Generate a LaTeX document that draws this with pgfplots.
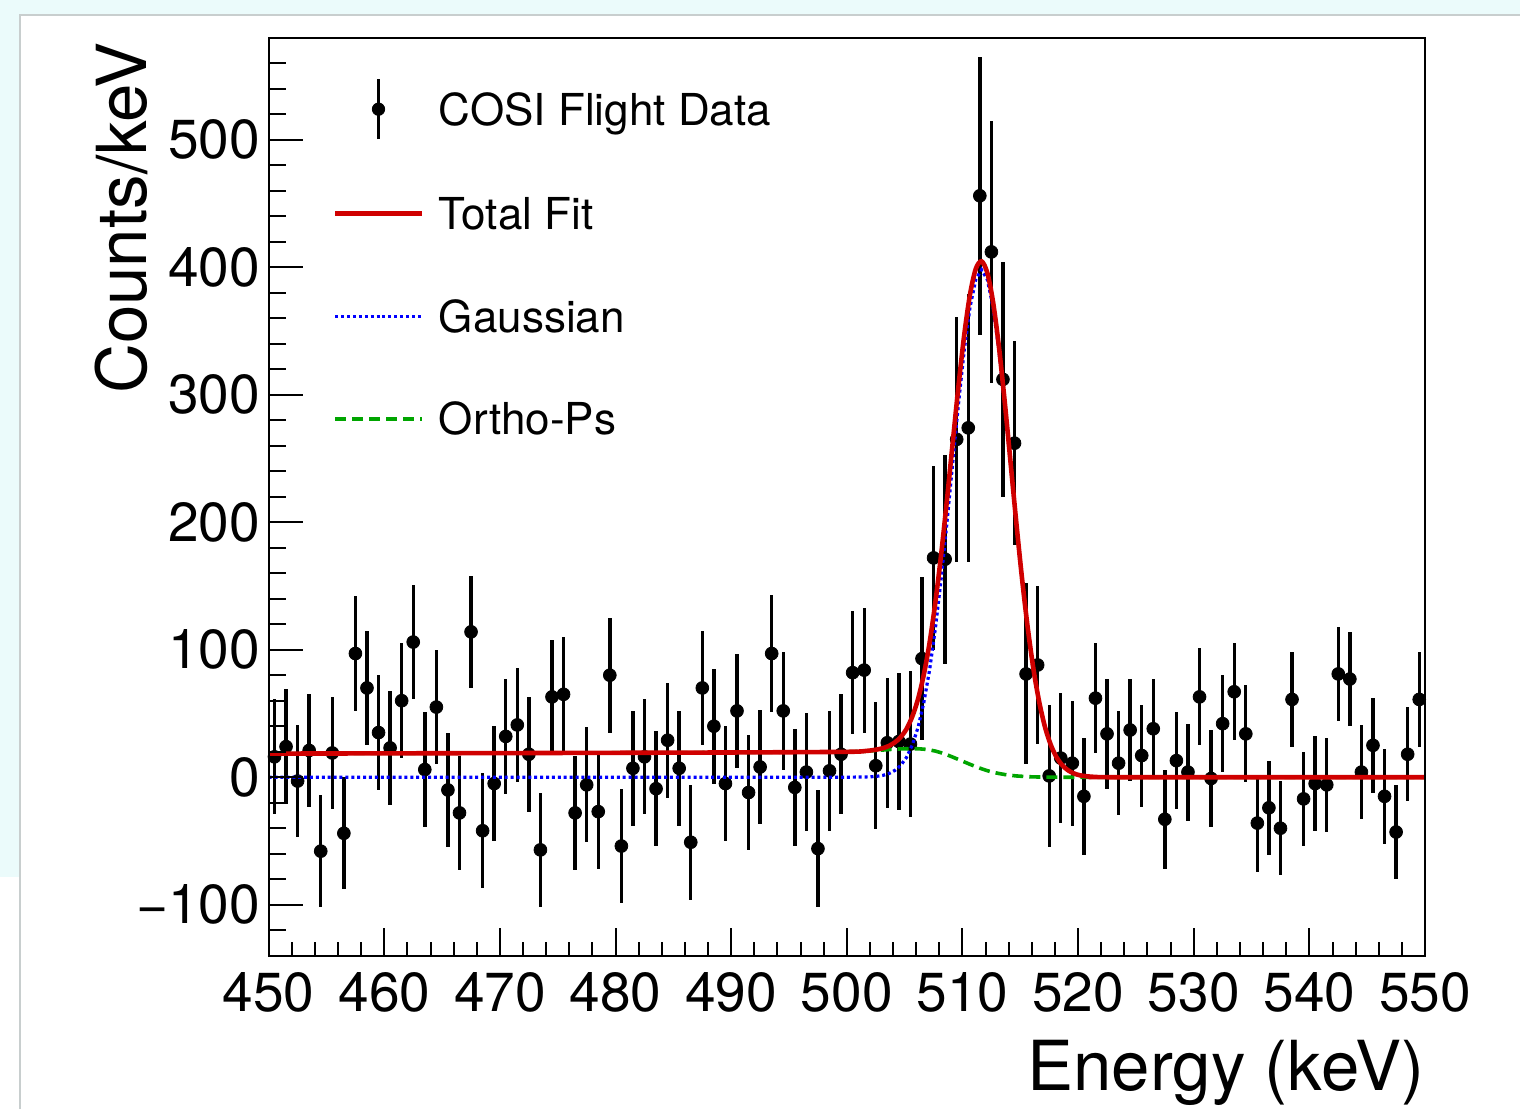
\documentclass[border=0pt]{standalone}
\usepackage{fontspec}
\setmainfont{TeX Gyre Heros}
\usepackage{pgfplots}
\usepackage{pgfplotstable}
\pgfplotsset{compat=1.18}

\definecolor{fitred}{RGB}{208,0,0}
\definecolor{gausblue}{RGB}{0,0,255}
\definecolor{opsgreen}{RGB}{0,165,0}
\definecolor{pagecyan}{RGB}{235,251,251}
\definecolor{cardedge}{RGB}{200,206,206}

% background-subtracted spectrum, 1 keV bins: centre, counts/keV, error
\pgfplotstableread{
x y e
450.5 16 45
451.5 24 45
452.5 -3 44
453.5 21 44
454.5 -58 44
455.5 19 44
456.5 -44 44
457.5 97 45
458.5 70 45
459.5 35 45
460.5 23 45
461.5 60 45
462.5 106 45
463.5 6 45
464.5 55 45
465.5 -10 45
466.5 -28 45
467.5 114 44
468.5 -42 45
469.5 -5 45
470.5 32 45
471.5 41 45
472.5 18 45
473.5 -57 45
474.5 63 45
475.5 65 45
476.5 -28 45
477.5 -6 45
478.5 -27 45
479.5 80 45
480.5 -54 45
481.5 7 45
482.5 16 45
483.5 -9 45
484.5 29 45
485.5 7 45
486.5 -51 45
487.5 70 45
488.5 40 45
489.5 -5 45
490.5 52 45
491.5 -12 45
492.5 8 45
493.5 97 46
494.5 52 46
495.5 -8 46
496.5 4 46
497.5 -56 46
498.5 5 47
499.5 18 47
500.5 82 48
501.5 84 49
502.5 9 50
503.5 27 51
504.5 28 54
505.5 26 57
506.5 93 64
507.5 172 72
508.5 171 82
509.5 265 96
510.5 274 105
511.5 456 109
512.5 412 103
513.5 312 92
514.5 262 80
515.5 81 71
516.5 88 62
517.5 1 56
518.5 15 51
519.5 11 49
520.5 -15 46
521.5 62 43
522.5 34 43
523.5 11 41
524.5 37 40
525.5 17 40
526.5 38 39
527.5 -33 39
528.5 13 38
529.5 4 38
530.5 63 38
531.5 -1 38
532.5 42 38
533.5 67 38
534.5 34 38
535.5 -36 38
536.5 -24 37
537.5 -40 37
538.5 61 37
539.5 -17 37
540.5 -5 37
541.5 -6 37
542.5 81 37
543.5 77 37
544.5 4 37
545.5 25 37
546.5 -15 37
547.5 -43 37
548.5 18 37
549.5 61 37
}\spectrum

% Gaussian line component
\pgfplotstableread{
x y
450 0
500 0
501.65 0.2
502.15 0.4
502.65 0.8
503.15 1.5
503.65 2.9
504.15 5.3
504.65 9.2
505.15 15.4
505.65 25.0
506.15 38.8
506.65 58.2
507.15 83.8
507.65 116.3
508.15 155.1
508.65 199.2
509.15 246.1
509.65 292.6
510.15 334.8
510.65 368.5
511.15 390.4
511.65 398.0
512.15 390.4
512.65 368.5
513.15 334.8
513.65 292.6
514.15 246.1
514.65 199.2
515.15 155.1
515.65 116.3
516.15 83.8
516.65 58.2
517.15 38.8
517.65 25.0
518.15 15.4
518.65 9.2
519.15 5.3
519.65 2.9
520.15 1.5
520.65 0.8
521.15 0.4
521.65 0.2
523 0
550 0
}\gaussline

% ortho-positronium continuum component
\pgfplotstableread{
x y
450 18.5
470 18.9
490 19.4
500 19.9
501.65 20.4
502.65 21.0
503.65 21.7
504.65 22.2
505.65 22.4
506.15 22.3
506.65 22.0
507.15 21.4
507.65 20.5
508.15 19.2
508.65 17.6
509.15 15.8
509.65 13.9
510.15 12.0
510.65 10.1
511.15 8.3
511.65 6.6
512.15 5.1
512.65 3.9
513.15 2.9
513.65 2.1
514.15 1.5
514.65 1.0
515.15 0.7
515.65 0.4
516.15 0.25
516.65 0.15
517.65 0.05
518.65 0
550 0
}\orthops

% total fit = Gaussian + ortho-Ps
\pgfplotstableread{
x y
450 18.5
470 18.9
490 19.4
500 19.9
501.65 20.6
502.15 21.1
502.65 21.8
503.15 22.85
503.65 24.6
504.15 27.3
504.65 31.4
505.15 37.7
505.65 47.4
506.15 61.1
506.65 80.2
507.15 105.2
507.65 136.8
508.15 174.3
508.65 216.8
509.15 261.9
509.65 306.5
510.15 346.8
510.65 378.6
511.15 398.7
511.65 404.6
512.15 395.5
512.65 372.4
513.15 337.7
513.65 294.7
514.15 247.6
514.65 200.2
515.15 155.8
515.65 116.7
516.15 84.05
516.65 58.35
517.15 38.9
517.65 25.05
518.15 15.4
518.65 9.2
519.15 5.3
519.65 2.9
520.15 1.5
520.65 0.8
521.15 0.4
521.65 0.2
523 0
550 0
}\totalfit

\pgfplotsset{
  rootframe/.style={
    scale only axis, width=578.15pt, height=459pt,
    at={(0pt,0pt)}, anchor=south west,
    xmin=450, xmax=550, ymin=-140, ymax=580,
    axis line style={line width=1pt, black},
    every tick/.style={line width=1pt, black},
    tick align=inside, tick pos=left,
  },
  datalegend/.style={legend image code/.code={
      \draw[black, line width=1.7pt] (21.6pt,-15pt) -- (21.6pt,15pt);
      \fill[black] (21.6pt,0pt) circle[radius=3.1pt];}},
  linelegend/.style={legend image code/.code={
      \draw[##1] (0pt,0pt) -- (43.2pt,0pt);}},
  fitstyle/.style={fitred, line width=2.3pt},
  gausstyle/.style={gausblue, line width=1.6pt, dash pattern=on 1.5pt off 1.45pt},
  opsstyle/.style={opsgreen, line width=1.8pt, dash pattern=on 5.5pt off 3pt},
}

\begin{document}
\begin{tikzpicture}
\path[use as bounding box] (-134.35pt,-76.65pt) rectangle (625.65pt,477.85pt);
\fill[white] (-134.35pt,-76.65pt) rectangle (625.65pt,477.85pt);
\fill[pagecyan] (-134.35pt,470.35pt) rectangle (625.65pt,477.85pt);
\fill[pagecyan] (-134.35pt,39.35pt) rectangle (-124.35pt,477.85pt);
\draw[cardedge, line width=0.9pt] (-124.35pt,-76.65pt) -- (-124.35pt,470.35pt) -- (625.65pt,470.35pt);

% main frame: x ticks, curves, data, legend
\begin{axis}[
  rootframe,
  clip mode=individual,
  xtick={450,460,...,550},
  minor xtick={452,454,...,548},
  ytick=\empty,
  major tick length=13.7pt, minor tick length=7pt,
  xticklabel style={font=\fontsize{27.5}{30}\selectfont, inner sep=0pt, anchor=north, yshift=-8pt},
  /pgf/number format/assume math mode=true,
  legend style={at={(rel axis cs:0,1)}, anchor=north west, xshift=32.15pt, yshift=-19.9pt,
    draw=none, fill=none, inner sep=0pt, outer sep=0pt,
    row sep=21.35pt, column sep=7.5pt,
    font=\fontsize{22}{26}\selectfont,
    nodes={inner sep=0pt, text height=22.9pt, text depth=7.1pt},
    cells={anchor=west}},
]
\addlegendimage{datalegend}
\addlegendentry{COSI Flight Data}
\addlegendimage{linelegend, fitstyle}
\addlegendentry{Total Fit}
\addlegendimage{linelegend, gausstyle}
\addlegendentry{Gaussian}
\addlegendimage{linelegend, opsstyle}
\addlegendentry{Ortho-Ps}

\addplot[forget plot, black, only marks, mark=*, mark size=3.2pt,
  mark options={fill=black, draw=black, line width=0.4pt},
  error bars/.cd, y dir=both, y explicit, error mark=none,
  error bar style={line width=1.7pt, black}]
  table[x=x, y=y, y error=e] {\spectrum};

\addplot[forget plot, gausstyle] table[x=x, y=y] {\gaussline};
\addplot[forget plot, opsstyle] table[x=x, y=y] {\orthops};
\addplot[forget plot, fitstyle, smooth] table[x=x, y=y] {\totalfit};

\node[font=\fontsize{34.5}{37}\selectfont, inner sep=0pt, anchor=base east, yshift=-67.15pt]
  at (rel axis cs:1,0) {Energy (keV)};
\node[font=\fontsize{34.5}{37}\selectfont, inner sep=0pt, xshift=-60.85pt, yshift=-2.0pt,
  rotate=90, anchor=base east] at (rel axis cs:0,1) {Counts/keV};
\end{axis}

% y ticks (longer than the x ticks)
\begin{axis}[
  rootframe,
  hide x axis,
  ytick={-100,0,...,500},
  yticklabels={−100,0,100,200,300,400,500},
  minor ytick={-120,-100,...,560},
  major tick length=17.3pt, minor tick length=8.7pt,
  yticklabel style={font=\fontsize{27.5}{30}\selectfont, inner sep=0pt, anchor=east, xshift=-4.2pt},
]
\end{axis}
\end{tikzpicture}
\end{document}
